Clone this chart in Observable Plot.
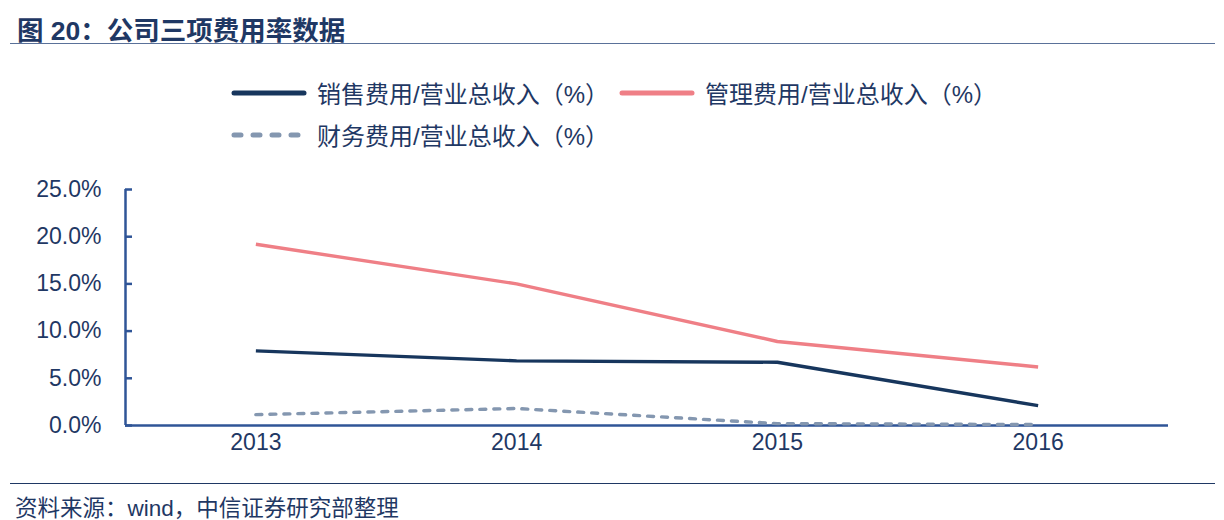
<!DOCTYPE html>
<html>
<head>
<meta charset="utf-8">
<script src="https://cdn.jsdelivr.net/npm/d3@7"></script>
<script src="https://cdn.jsdelivr.net/npm/@observablehq/plot@0.6"></script>
<style>
  html, body { margin: 0; padding: 0; background: #fff; }
  body { width: 1224px; height: 520px; position: relative; overflow: hidden;
         font-family: "Liberation Sans", Arial, "Noto Sans CJK SC", sans-serif; color: #1f3864; }
  #title { position: absolute; left: 17px; top: 9px; font-size: 26.5px; font-weight: bold;
           font-family: "Liberation Sans", Arial, "Noto Sans CJK SC", sans-serif; color: #1f3864; white-space: nowrap; }
  #titleRule { position: absolute; left: 10px; top: 43px; width: 1205px; height: 0; border-top: 1.5px solid #5a7199; }
  #legend { position: absolute; left: 0; top: 0; width: 1224px; height: 160px; }
  .leg { position: absolute; display: flex; align-items: center; font-size: 24px; white-space: nowrap;
         font-family: "Liberation Sans", Arial, "Noto Sans CJK SC", sans-serif; color: #1f3864; }
  .leg svg { margin-right: 9px; }
  #chart { position: absolute; left: 0; top: 160px; }
  #footRule { position: absolute; left: 10px; top: 483px; width: 1205px; height: 0; border-top: 1.5px solid #1f3864; }
  #foot { position: absolute; left: 15px; top: 490px; font-size: 22.5px; white-space: nowrap;
          font-family: "Liberation Sans", Arial, "Noto Sans CJK SC", sans-serif; color: #1f3864; }
</style>
</head>
<body>
<div id="title"></div>
<div id="titleRule"></div>
<div id="legend"></div>
<div id="chart"></div>
<div id="footRule"></div>
<div id="foot"></div>
<script>
const titleText = "图 20：公司三项费用率数据";
const sourceText = "资料来源：wind，中信证券研究部整理";
const years = [2013, 2014, 2015, 2016];
const seriesNames = ["销售费用/营业总收入（%）", "管理费用/营业总收入（%）", "财务费用/营业总收入（%）"];
const salesRatio = [7.9, 6.85, 6.7, 2.1];
const adminRatio = [19.2, 15.0, 8.9, 6.2];
const financeRatio = [1.15, 1.8, 0.2, 0.1];
const yTicks = [0, 5, 10, 15, 20, 25];
const seriesColors = ["#17365d", "#ef7f86", "#8497b0"];
const seriesDash = [null, null, "6,8"];

const navy = "#1f3864";
const axisColor = "#2f5597";

document.getElementById("title").textContent = titleText;
document.getElementById("foot").textContent = sourceText;

// legend
const legendPos = [{left: 230, top: 75}, {left: 618, top: 75}, {left: 230, top: 117}];
const legend = document.getElementById("legend");
seriesNames.forEach((name, i) => {
  const item = document.createElement("div");
  item.className = "leg";
  item.style.left = legendPos[i].left + "px";
  item.style.top = legendPos[i].top + "px";
  const dash = seriesDash[i] ? 'stroke-dasharray="7,12"' : "";
  item.innerHTML = `<svg width="78" height="10"><line x1="4" y1="5" x2="74" y2="5" stroke="${seriesColors[i]}" stroke-width="5" stroke-linecap="round" ${dash}/></svg><span>${name}</span>`;
  legend.appendChild(item);
});

const series = [salesRatio, adminRatio, financeRatio];
const rows = [];
series.forEach((vals, s) => vals.forEach((v, j) => rows.push({series: seriesNames[s], year: years[j], value: v})));

const fmtPct = d => d.toFixed(1) + "%";

const chart = Plot.plot({
  width: 1224,
  height: 310,
  marginTop: 29,
  marginBottom: 45,
  marginLeft: 125,
  marginRight: 56,
  style: {fontFamily: '"Liberation Sans", Arial, sans-serif', fontSize: "23px", color: navy, background: "transparent"},
  x: {domain: [years[0] - 0.5, years[years.length - 1] + 0.5]},
  y: {domain: [0, 25]},
  marks: [
    Plot.axisY({ticks: yTicks, tickFormat: fmtPct, tickSize: 0, tickPadding: 24, fill: navy, label: null}),
    Plot.axisY({ticks: yTicks, tickFormat: () => "", tickSize: 7, dx: 7, stroke: axisColor, strokeWidth: 2.5, label: null}),
    Plot.axisX({ticks: years, tickFormat: d => String(d), tickSize: 0, tickPadding: 8, fill: navy, label: null}),
    Plot.ruleX([years[0] - 0.5], {stroke: axisColor, strokeWidth: 2.5}),
    Plot.ruleY([0], {stroke: axisColor, strokeWidth: 2.5}),
    ...seriesNames.map((name, i) => Plot.line(rows.filter(r => r.series === name), {
      x: "year", y: "value", stroke: seriesColors[i], strokeWidth: 3.4,
      strokeDasharray: seriesDash[i], strokeLinecap: seriesDash[i] ? "round" : "butt",
      strokeLinejoin: "round",
      curve: "linear"
    }))
  ]
});
document.getElementById("chart").appendChild(chart);
</script>
</body>
</html>
